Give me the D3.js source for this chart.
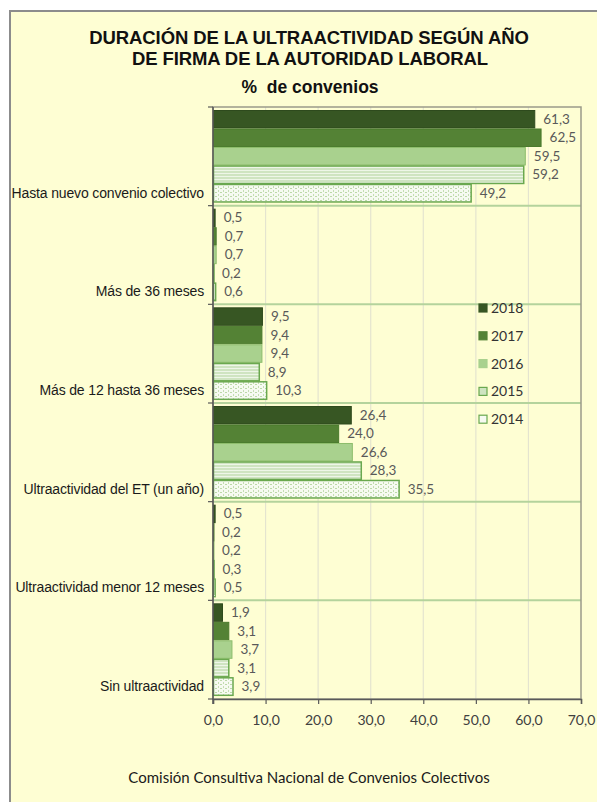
<!DOCTYPE html>
<html><head><meta charset="utf-8">
<script src="https://cdn.jsdelivr.net/npm/d3@7/dist/d3.min.js"></script>
<style>
html,body{margin:0;padding:0;background:#fff;}
svg{display:block;}
</style></head>
<body>
<script>
const categories = ["Hasta nuevo convenio colectivo","Más de 36 meses","Más de 12 hasta 36 meses","Ultraactividad del ET (un año)","Ultraactividad menor 12 meses","Sin ultraactividad"];
const years = ["2018","2017","2016","2015","2014"];
const v2018 = [61.3,0.5,9.5,26.4,0.5,1.9];
const v2017 = [62.5,0.7,9.4,24.0,0.2,3.1];
const v2016 = [59.5,0.7,9.4,26.6,0.2,3.7];
const v2015 = [59.2,0.2,8.9,28.3,0.3,3.1];
const v2014 = [49.2,0.6,10.3,35.5,0.5,3.9];
const xTicks = [0,10,20,30,40,50,60,70];
const titleLines = ["DURACIÓN DE LA ULTRAACTIVIDAD SEGÚN AÑO","DE FIRMA DE LA AUTORIDAD LABORAL"];
const subtitle = "%  de convenios";
const footer = "Comisión Consultiva Nacional de Convenios Colectivos";

const series = {"2018":v2018,"2017":v2017,"2016":v2016,"2015":v2015,"2014":v2014};

const W=597,H=802;
const bg="#fefed3";
const svg=d3.select("body").append("svg").attr("width",W).attr("height",H);

// patterns
const defs=svg.append("defs");
const p15=defs.append("pattern").attr("id","p2015").attr("patternUnits","userSpaceOnUse").attr("width",4).attr("height",3);
p15.append("rect").attr("width",4).attr("height",3).attr("fill","#cfe4c1");
p15.append("rect").attr("y",2).attr("width",4).attr("height",1).attr("fill","#eef6e8");
const p14=defs.append("pattern").attr("id","p2014").attr("patternUnits","userSpaceOnUse").attr("width",5).attr("height",4);
p14.append("rect").attr("width",5).attr("height",4).attr("fill","#f6faf1");
p14.append("rect").attr("x",0).attr("y",0).attr("width",2).attr("height",1).attr("fill","#bcd9a8");
p14.append("rect").attr("x",3).attr("y",2).attr("width",1).attr("height",2).attr("fill","#c4ddb2");

const style = {
 "2018":{fill:"#375623",stroke:"#2e4a1d",sw:1},
 "2017":{fill:"#548235",stroke:"#4a7a2c",sw:1},
 "2016":{fill:"#a9d18e",stroke:"#8dbd6c",sw:1},
 "2015":{fill:"url(#p2015)",stroke:"#6aa84f",sw:1.5},
 "2014":{fill:"url(#p2014)",stroke:"#6aa84f",sw:1.5}
};
const legendFill = {"2018":"#375623","2017":"#548235","2016":"#a9d18e","2015":"#cfe4c1","2014":"#f6faf1"};

// background and frame
svg.append("rect").attr("width",W).attr("height",H).attr("fill","#ffffff");
svg.append("rect").attr("x",10).attr("y",11).attr("width",W).attr("height",H).attr("fill",bg).attr("stroke","#8c8c8c").attr("stroke-width",2);

// title
const title=svg.append("g").attr("font-family","'Liberation Sans',Arial,sans-serif").attr("font-weight","bold").attr("fill","#111").attr("text-anchor","middle");
title.append("text").attr("x",309).attr("y",44).attr("font-size",18.5).attr("letter-spacing",-0.1).text(titleLines[0]);
title.append("text").attr("x",310).attr("y",65).attr("font-size",18.5).attr("letter-spacing",-0.1).text(titleLines[1]);
title.append("text").attr("x",310).attr("y",93).attr("font-size",17.5).attr("xml:space","preserve").text(subtitle);

const plot={l:213,r:581,t:107,b:699};
const x=d3.scaleLinear().domain([0,70]).range([plot.l,plot.r]);
const y=d3.scaleBand().domain(categories).range([plot.t,plot.b]);
const yi=d3.scaleBand().domain(years).range([3,y.bandwidth()-3.2]).padding(0);

// gridlines
svg.append("g").selectAll("line").data(xTicks.slice(1,-1)).join("line")
 .attr("x1",d=>x(d)).attr("x2",d=>x(d)).attr("y1",plot.t).attr("y2",plot.b)
 .attr("stroke","#e4e4cf").attr("stroke-width",1.2);

// category separators
svg.append("g").selectAll("line").data(categories.slice(1)).join("line")
 .attr("x1",plot.l).attr("x2",plot.r).attr("y1",d=>y(d)).attr("y2",d=>y(d))
 .attr("stroke","#b4d39c").attr("stroke-width",2);

// plot border
svg.append("rect").attr("x",plot.l).attr("y",plot.t).attr("width",plot.r-plot.l).attr("height",plot.b-plot.t)
 .attr("fill","none").attr("stroke","#9a9a8a").attr("stroke-width",1.5);

// bars
const gBars=svg.append("g");
categories.forEach((c,ci)=>{
  years.forEach(yr=>{
    const v=series[yr][ci];
    const s=style[yr];
    gBars.append("rect")
      .attr("x",x(0)+0.5).attr("y",y(c)+yi(yr)+0.5)
      .attr("width",Math.max(0.5,x(v)-x(0)-1)).attr("height",yi.bandwidth()-1)
      .attr("fill",s.fill).attr("stroke",s.stroke).attr("stroke-width",s.sw);
    gBars.append("text")
      .attr("x",x(v)+8).attr("y",y(c)+yi(yr)+yi.bandwidth()/2+4.5)
      .attr("font-family","Lato,'Open Sans',sans-serif").attr("font-size",13.5)
      .attr("fill","#595959").text(d3.format(".1f")(v).replace(".",","));
  });
});

// y axis
svg.append("line").attr("x1",plot.l).attr("x2",plot.l).attr("y1",plot.t).attr("y2",plot.b+5).attr("stroke","#595959").attr("stroke-width",1.5);
svg.append("g").selectAll("line").data(categories).join("line")
 .attr("x1",plot.l-5).attr("x2",plot.l).attr("y1",d=>y(d)+y.bandwidth()).attr("y2",d=>y(d)+y.bandwidth())
 .attr("stroke","#595959").attr("stroke-width",1.2);
svg.append("line").attr("x1",plot.l-5).attr("x2",plot.l).attr("y1",plot.t).attr("y2",plot.t).attr("stroke","#595959").attr("stroke-width",1.2);

// category labels
svg.append("g").selectAll("text").data(categories).join("text")
 .attr("x",plot.l-9).attr("y",d=>y(d)+yi("2014")+yi.bandwidth()/2+4.5)
 .attr("text-anchor","end").attr("font-family","'Liberation Sans',Arial,sans-serif")
 .attr("font-size",14).attr("letter-spacing",-0.15).attr("fill","#1a1a1a").text(d=>d);

// x axis
const xAxis=d3.axisBottom(x).tickValues(xTicks).tickSize(5).tickFormat(d=>d3.format(".1f")(d).replace(".",","));
const gx=svg.append("g").attr("transform",`translate(0,${plot.b})`).call(xAxis);
gx.select(".domain").attr("stroke","#595959").attr("stroke-width",1.5);
gx.selectAll(".tick line").attr("stroke","#595959").attr("stroke-width",1.2);
gx.selectAll(".tick text").attr("font-family","Lato,'Open Sans',sans-serif").attr("font-size",14).attr("fill","#404040").attr("dy","1.25em");

// legend
const lg=svg.append("g");
years.forEach((yr,i)=>{
  const cy=308+i*27.8;
  lg.append("rect").attr("x",479).attr("y",cy-4).attr("width",8).attr("height",8)
    .attr("fill",legendFill[yr]).attr("stroke",(yr==="2015"||yr==="2014")?"#6aa84f":legendFill[yr]).attr("stroke-width",1.2);
  lg.append("text").attr("x",491).attr("y",cy+5).attr("font-family","Lato,'Open Sans',sans-serif")
    .attr("font-size",14).attr("fill","#333").text(yr);
});

// footer
svg.append("text").attr("x",309).attr("y",783).attr("text-anchor","middle")
 .attr("font-family","Lato,'Open Sans',sans-serif").attr("font-size",15).attr("fill","#1a1a1a").text(footer);
</script>
</body></html>
